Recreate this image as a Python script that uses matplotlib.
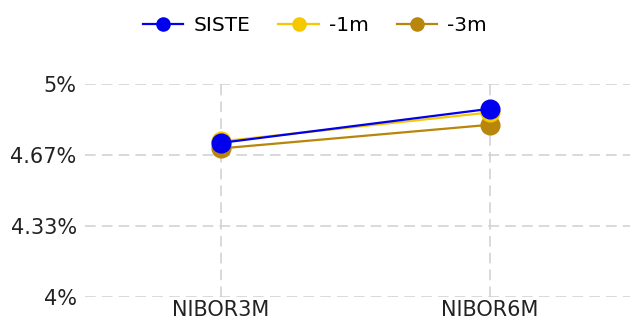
import matplotlib

matplotlib.use("Agg")
import matplotlib.pyplot as plt

categories = ["NIBOR3M", "NIBOR6M"]
series_names = ["SISTE", "-1m", "-3m"]
siste = [4.723, 4.883]
m1 = [4.730, 4.866]
m3 = [4.697, 4.808]
colors = ["#0000ee", "#f5c800", "#b8860b"]
y_ticks = [4.0, 4.333, 4.667, 5.0]
y_labels = ["4%", "4.33%", "4.67%", "5%"]

plt.rcParams["font.family"] = ["DejaVu Sans"]

fig = plt.figure(figsize=(6.3, 3.2), dpi=100)
ax = fig.add_axes([0.135, 0.072, 0.865, 0.666])

x = list(range(len(categories)))
# draw oldest first so SISTE ends up on top
for name, vals, col in reversed(list(zip(series_names, [siste, m1, m3], colors))):
    ax.plot(x, vals, color=col, lw=1.6, marker="o", ms=13.5, label=name,
            zorder=3)

ax.set_xlim(-0.505, 1.52)
ax.set_ylim(4.0, 5.0)
ax.set_xticks(x)
ax.set_xticklabels(categories)
ax.set_yticks(y_ticks)
ax.set_yticklabels(y_labels)
ax.tick_params(axis="both", length=0, labelsize=15, colors="#222222")
ax.tick_params(axis="x", pad=2)
ax.tick_params(axis="y", pad=6)
for s in ax.spines.values():
    s.set_visible(False)
ax.grid(True, color="#cfcfcf", linestyle=(0, (7, 4)), lw=1.1, zorder=0)

handles, labels = ax.get_legend_handles_labels()
fig.legend(handles[::-1], labels[::-1], loc="upper center",
           bbox_to_anchor=(0.5, 1.008), ncol=3, frameon=False,
           fontsize=14.5, markerscale=0.7, handlelength=2.0,
           handletextpad=0.5, columnspacing=1.4)

fig.savefig("out.png", dpi=100)
